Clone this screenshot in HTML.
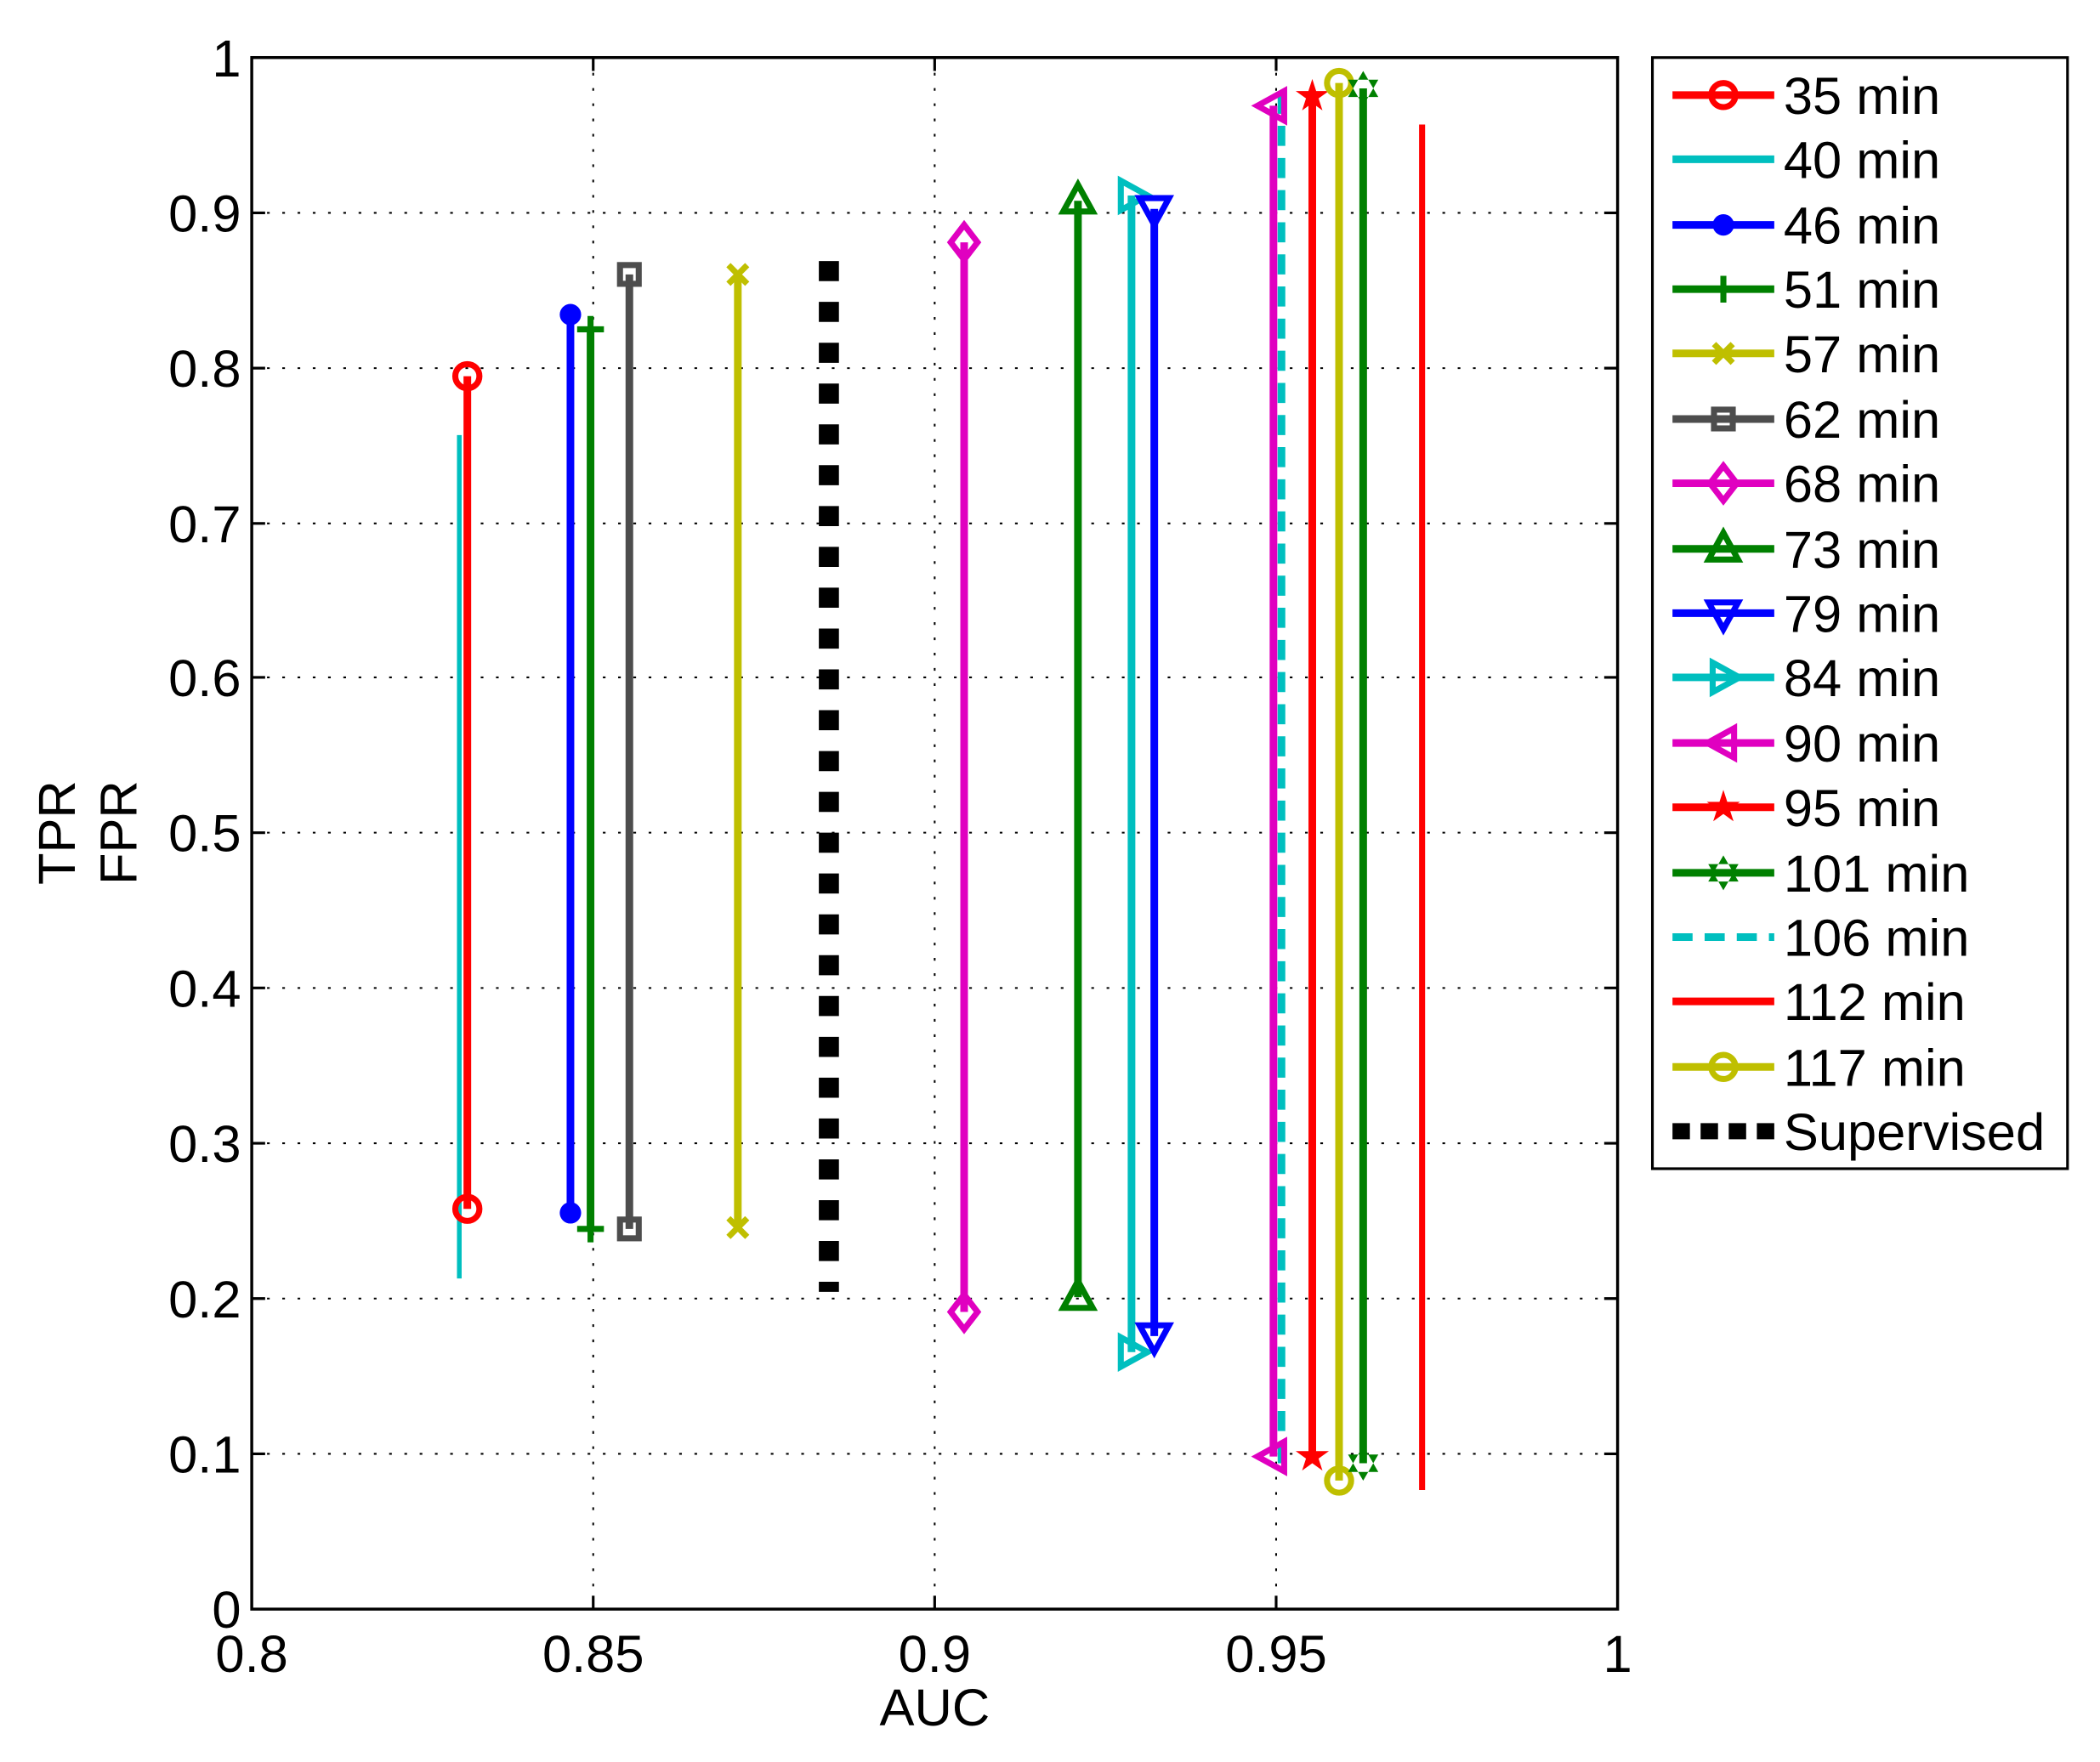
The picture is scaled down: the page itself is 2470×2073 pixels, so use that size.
<!DOCTYPE html>
<html><head><meta charset="utf-8"><style>html,body{margin:0;padding:0;background:#fff}svg{display:block}</style></head>
<body>
<svg width="2470" height="2073" viewBox="0 0 1568.25 1316.2" xmlns="http://www.w3.org/2000/svg" font-family="Liberation Sans, Arial, sans-serif">
<defs>
<circle id="mo" r="9" fill="none"/>
<circle id="md" r="8"/>
<path id="mp" d="M-10 0H10M0-10V10" fill="none"/>
<path id="mx" d="M-7-7L7 7M-7 7L7-7" fill="none"/>
<rect id="ms" x="-7" y="-7" width="14" height="14" fill="none"/>
<path id="mdi" d="M0-13L10 0 0 13-10 0Z" fill="none"/>
<path id="mtu" d="M0-12L11 8-11 8Z" fill="none"/>
<path id="mtd" d="M0 12L11-8-11-8Z" fill="none"/>
<path id="mtr" d="M12 0L-8-11-8 11Z" fill="none"/>
<path id="mtl" d="M-12 0L8-11 8 11Z" fill="none"/>
<path id="mst" d="M0-13L2.9-4 12.4-4 4.7 1.5 7.6 10.5 0 5-7.6 10.5-4.7 1.5-12.4-4-2.9-4Z"/>
<path id="mhx" d="M0-13L11.3 6.5-11.3 6.5ZM0 13L11.3-6.5-11.3-6.5Z"/>
</defs>
<g stroke="#000" stroke-width="1.3" stroke-dasharray="2 9.4">
<line x1="443" y1="43" x2="443" y2="1202"/><line x1="698" y1="43" x2="698" y2="1202"/><line x1="953" y1="43" x2="953" y2="1202"/>
<line x1="188" y1="1086" x2="1208" y2="1086"/><line x1="188" y1="970" x2="1208" y2="970"/><line x1="188" y1="854" x2="1208" y2="854"/>
<line x1="188" y1="738" x2="1208" y2="738"/><line x1="188" y1="622" x2="1208" y2="622"/><line x1="188" y1="506" x2="1208" y2="506"/>
<line x1="188" y1="391" x2="1208" y2="391"/><line x1="188" y1="275" x2="1208" y2="275"/><line x1="188" y1="159" x2="1208" y2="159"/>
</g>
<g stroke="#000" stroke-width="2">
<path d="M443 1202v-10M698 1202v-10M953 1202v-10M443 43v10M698 43v10M953 43v10"/>
<path d="M188 1086h10M188 970h10M188 854h10M188 738h10M188 622h10M188 506h10M188 391h10M188 275h10M188 159h10"/>
<path d="M1208 1086h-10M1208 970h-10M1208 854h-10M1208 738h-10M1208 622h-10M1208 506h-10M1208 391h-10M1208 275h-10M1208 159h-10"/>
</g>
<rect x="188" y="43" width="1020" height="1159" fill="none" stroke="#000" stroke-width="2.2"/>
<g font-size="39" text-anchor="end" fill="#000">
<text x="180" y="1216">0</text><text x="180" y="1100">0.1</text><text x="180" y="984">0.2</text><text x="180" y="868">0.3</text>
<text x="180" y="752">0.4</text><text x="180" y="636">0.5</text><text x="180" y="520">0.6</text><text x="180" y="405">0.7</text>
<text x="180" y="289">0.8</text><text x="180" y="173">0.9</text><text x="180" y="57">1</text>
</g>
<g font-size="39" text-anchor="middle" fill="#000">
<text x="188" y="1249">0.8</text><text x="443" y="1249">0.85</text><text x="698" y="1249">0.9</text><text x="953" y="1249">0.95</text><text x="1208" y="1249">1</text>
<text x="698" y="1289">AUC</text>
<text transform="translate(56,622) rotate(-90)">TPR</text>
<text transform="translate(102,622) rotate(-90)">FPR</text>
</g>
<g stroke-width="5.7" fill="none">
<line x1="343" y1="325" x2="343" y2="955" stroke="#00bfbf" stroke-width="3.5"/>
<line x1="349" y1="281" x2="349" y2="903" stroke="#f00"/>
<line x1="426" y1="235" x2="426" y2="906" stroke="#00f"/>
<line x1="441" y1="246" x2="441" y2="918" stroke="#008000"/>
<line x1="470" y1="205" x2="470" y2="918" stroke="#4d4d4d"/>
<line x1="551" y1="205" x2="551" y2="917" stroke="#bfbf00"/>
<line x1="619" y1="195" x2="619" y2="965" stroke="#000" stroke-width="15" stroke-dasharray="15 15.5"/>
<line x1="720" y1="181" x2="720" y2="980" stroke="#e000c0"/>
<line x1="805" y1="150" x2="805" y2="969" stroke="#008000"/>
<line x1="845" y1="146" x2="845" y2="1010" stroke="#00bfbf"/>
<line x1="862" y1="156" x2="862" y2="998" stroke="#00f"/>
<line x1="951" y1="79" x2="951" y2="1088" stroke="#e000c0"/>
<line x1="957" y1="70" x2="957" y2="1095" stroke="#00bfbf" stroke-dasharray="15 9"/>
<line x1="980" y1="72" x2="980" y2="1088" stroke="#f00"/>
<line x1="1000" y1="62" x2="1000" y2="1106" stroke="#bfbf00"/>
<line x1="1018" y1="66" x2="1018" y2="1093" stroke="#008000"/>
<line x1="1062" y1="93" x2="1062" y2="1113" stroke="#f00" stroke-width="4.5"/>
</g>
<g stroke-width="4.5">
<use href="#mo" x="349" y="281" stroke="#f00"/><use href="#mo" x="349" y="903" stroke="#f00"/>
<use href="#md" x="426" y="235" fill="#00f"/><use href="#md" x="426" y="906" fill="#00f"/>
<use href="#mp" x="441" y="246" stroke="#008000"/><use href="#mp" x="441" y="918" stroke="#008000"/>
<use href="#ms" x="470" y="205" stroke="#4d4d4d"/><use href="#ms" x="470" y="918" stroke="#4d4d4d"/>
<use href="#mx" x="551" y="205" stroke="#bfbf00"/><use href="#mx" x="551" y="917" stroke="#bfbf00"/>
<use href="#mdi" x="720" y="181" stroke="#e000c0"/><use href="#mdi" x="720" y="980" stroke="#e000c0"/>
<use href="#mtu" x="805" y="150" stroke="#008000"/><use href="#mtu" x="805" y="969" stroke="#008000"/>
<use href="#mtr" x="845" y="146" stroke="#00bfbf"/><use href="#mtr" x="845" y="1010" stroke="#00bfbf"/>
<use href="#mtd" x="862" y="156" stroke="#00f"/><use href="#mtd" x="862" y="998" stroke="#00f"/>
<use href="#mtl" x="951" y="79" stroke="#e000c0"/><use href="#mtl" x="951" y="1088" stroke="#e000c0"/>
<use href="#mst" x="980" y="72" fill="#f00"/><use href="#mst" x="980" y="1088" fill="#f00"/>
<use href="#mo" x="1000" y="62" stroke="#bfbf00"/><use href="#mo" x="1000" y="1106" stroke="#bfbf00"/>
<use href="#mhx" x="1018" y="66" fill="#008000"/><use href="#mhx" x="1018" y="1093" fill="#008000"/>
</g>
<rect x="1234" y="43" width="310" height="830" fill="#fff" stroke="#000" stroke-width="2"/>
<g stroke-width="5.7">
<line x1="1249" y1="71" x2="1325" y2="71" stroke="#f00"/>
<line x1="1249" y1="119" x2="1325" y2="119" stroke="#00bfbf"/>
<line x1="1249" y1="168" x2="1325" y2="168" stroke="#00f"/>
<line x1="1249" y1="216" x2="1325" y2="216" stroke="#008000"/>
<line x1="1249" y1="264" x2="1325" y2="264" stroke="#bfbf00"/>
<line x1="1249" y1="313" x2="1325" y2="313" stroke="#4d4d4d"/>
<line x1="1249" y1="361" x2="1325" y2="361" stroke="#e000c0"/>
<line x1="1249" y1="410" x2="1325" y2="410" stroke="#008000"/>
<line x1="1249" y1="458" x2="1325" y2="458" stroke="#00f"/>
<line x1="1249" y1="506" x2="1325" y2="506" stroke="#00bfbf"/>
<line x1="1249" y1="555" x2="1325" y2="555" stroke="#e000c0"/>
<line x1="1249" y1="603" x2="1325" y2="603" stroke="#f00"/>
<line x1="1249" y1="652" x2="1325" y2="652" stroke="#008000"/>
<line x1="1249" y1="700" x2="1325" y2="700" stroke="#00bfbf" stroke-dasharray="15 9"/>
<line x1="1249" y1="748" x2="1325" y2="748" stroke="#f00"/>
<line x1="1249" y1="797" x2="1325" y2="797" stroke="#bfbf00"/>
<line x1="1249" y1="845" x2="1325" y2="845" stroke="#000" stroke-width="12" stroke-dasharray="13 8"/>
</g>
<g stroke-width="4.5">
<use href="#mo" x="1287" y="71" stroke="#f00"/>
<use href="#md" x="1287" y="168" fill="#00f"/>
<use href="#mp" x="1287" y="216" stroke="#008000"/>
<use href="#mx" x="1287" y="264" stroke="#bfbf00"/>
<use href="#ms" x="1287" y="313" stroke="#4d4d4d"/>
<use href="#mdi" x="1287" y="361" stroke="#e000c0"/>
<use href="#mtu" x="1287" y="410" stroke="#008000" fill="#008000"/>
<use href="#mtd" x="1287" y="458" stroke="#00f" fill="#00f"/>
<use href="#mtr" x="1287" y="506" stroke="#00bfbf" fill="#00bfbf"/>
<use href="#mtl" x="1287" y="555" stroke="#e000c0" fill="#e000c0"/>
<use href="#mst" x="1287" y="603" fill="#f00"/>
<use href="#mhx" x="1287" y="652" fill="#008000"/>
<use href="#mo" x="1287" y="797" stroke="#bfbf00"/>
</g>
<g font-size="39" fill="#000">
<text x="1332" y="85">35 min</text><text x="1332" y="133">40 min</text><text x="1332" y="182">46 min</text>
<text x="1332" y="230">51 min</text><text x="1332" y="278">57 min</text><text x="1332" y="327">62 min</text>
<text x="1332" y="375">68 min</text><text x="1332" y="424">73 min</text><text x="1332" y="472">79 min</text>
<text x="1332" y="520">84 min</text><text x="1332" y="569">90 min</text><text x="1332" y="617">95 min</text>
<text x="1332" y="666">101 min</text><text x="1332" y="714">106 min</text><text x="1332" y="762">112 min</text>
<text x="1332" y="811">117 min</text><text x="1332" y="859">Supervised</text>
</g>
</svg>
</body></html>
